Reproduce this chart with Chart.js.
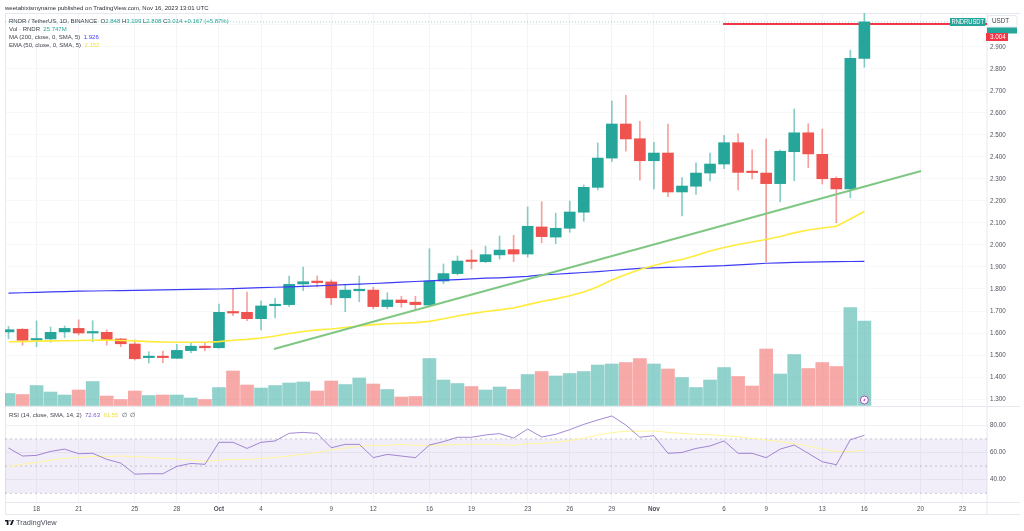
<!DOCTYPE html>
<html>
<head>
<meta charset="utf-8">
<title>RNDR / TetherUS daily</title>
<script src="https://cdn.jsdelivr.net/npm/chart.js@4/dist/chart.umd.min.js"></script>
<style>
  html, body { margin: 0; padding: 0; background: #fff; }
  #wrap { position: relative; width: 1024px; height: 531px; overflow: hidden; }
  canvas { position: absolute; left: 0; top: 0; }
  .t { position: absolute; white-space: pre; font: 6px/9px "Liberation Sans", Arial, sans-serif; color: #3c3f4a; }
  .up { color: #26a69a; }
  .ma { color: #3b3bff; }
  .em { color: #f2e23a; }
  .rs { color: #7e57c2; }
  .rm { color: #f2e23a; }
</style>
</head>
<body>
<div id="wrap">
  <canvas id="chart" width="1024" height="531"></canvas>
  <div class="t" id="headline" style="left:5px;top:4px;color:#2a2e39"></div>
  <div class="t" id="legendPrice" style="left:9px;top:17px"></div>
  <div class="t" id="legendVol" style="left:9px;top:25px"></div>
  <div class="t" id="legendMa" style="left:9px;top:33px"></div>
  <div class="t" id="legendEma" style="left:9px;top:41px"></div>
  <div class="t" id="legendRsi" style="left:9px;top:411px"></div>
  <svg style="position:absolute;left:5px;top:520px" width="9" height="5" viewBox="0 6 36 20" preserveAspectRatio="none">
    <path fill="#131722" d="M14 6H0v6h7v14h7V6Zm14 20h-8l8-20h8l-8 20Zm-8-14a3 3 0 1 0 0-6 3 3 0 0 0 0 6Z"/>
  </svg>
  <div class="t" style="left:16px;top:518px;font-size:7.4px;color:#4a4e5a">TradingView</div>
</div>
<script>
// Daily RNDR/USDT candles, 16 Sep to 16 Nov 2023
const days = [
  'Sep 16','Sep 17','Sep 18','Sep 19','Sep 20','Sep 21','Sep 22','Sep 23','Sep 24','Sep 25','Sep 26','Sep 27','Sep 28','Sep 29','Sep 30',
  'Oct 1','Oct 2','Oct 3','Oct 4','Oct 5','Oct 6','Oct 7','Oct 8','Oct 9','Oct 10','Oct 11','Oct 12','Oct 13','Oct 14','Oct 15','Oct 16',
  'Oct 17','Oct 18','Oct 19','Oct 20','Oct 21','Oct 22','Oct 23','Oct 24','Oct 25','Oct 26','Oct 27','Oct 28','Oct 29','Oct 30','Oct 31',
  'Nov 1','Nov 2','Nov 3','Nov 4','Nov 5','Nov 6','Nov 7','Nov 8','Nov 9','Nov 10','Nov 11','Nov 12','Nov 13','Nov 14','Nov 15','Nov 16'
];
const opens = [
  1.605,1.617,1.568,1.573,1.605,1.621,1.600,1.603,1.573,1.550,1.488,1.491,1.485,1.520,1.538,
  1.533,1.694,1.694,1.665,1.724,1.729,1.823,1.836,1.832,1.760,1.792,1.795,1.720,1.750,1.740,1.727,
  1.836,1.870,1.930,1.924,1.955,1.979,1.959,2.082,2.036,2.076,2.149,2.262,2.395,2.550,2.483,
  2.383,2.418,2.241,2.267,2.327,2.368,2.465,2.332,2.327,2.279,2.424,2.510,2.412,2.303,2.255,2.848
];
const highs = [
  1.630,1.620,1.655,1.627,1.632,1.660,1.656,1.614,1.576,1.568,1.515,1.518,1.549,1.553,1.553,
  1.732,1.800,1.786,1.745,1.758,1.859,1.900,1.859,1.841,1.821,1.859,1.808,1.783,1.767,1.767,1.983,
  1.914,1.950,1.977,1.995,2.041,2.044,2.173,2.197,2.145,2.200,2.273,2.464,2.655,2.680,2.562,
  2.467,2.550,2.306,2.374,2.418,2.499,2.505,2.432,2.483,2.432,2.618,2.551,2.527,2.310,2.885,3.199
];
const lows = [
  1.574,1.544,1.538,1.558,1.579,1.591,1.560,1.545,1.538,1.477,1.464,1.465,1.483,1.510,1.518,
  1.531,1.679,1.656,1.614,1.668,1.720,1.792,1.810,1.729,1.697,1.742,1.710,1.710,1.717,1.705,1.725,
  1.824,1.864,1.891,1.920,1.936,1.924,1.945,2.010,2.006,2.058,2.108,2.250,2.379,2.426,2.295,
  2.255,2.220,2.132,2.230,2.291,2.347,2.250,2.300,1.924,2.197,2.292,2.351,2.277,2.101,2.215,2.808
];
const closes = [
  1.615,1.567,1.573,1.603,1.621,1.600,1.605,1.570,1.551,1.483,1.491,1.488,1.521,1.540,1.533,
  1.694,1.691,1.665,1.723,1.729,1.821,1.833,1.829,1.760,1.795,1.795,1.720,1.750,1.738,1.729,1.836,
  1.870,1.927,1.925,1.956,1.977,1.959,2.085,2.038,2.076,2.150,2.262,2.395,2.550,2.482,2.383,
  2.418,2.241,2.268,2.327,2.368,2.465,2.330,2.329,2.279,2.426,2.510,2.414,2.301,2.255,2.848,3.014
];
// Volume in millions of RNDR
const volumes = [
  3.66,3.35,6.09,4.11,3.20,4.72,7.31,2.89,1.83,4.42,3.05,3.20,3.20,2.29,1.83,
  5.48,10.51,6.25,5.33,6.09,6.86,7.16,4.42,7.47,6.40,8.38,6.55,4.88,2.59,2.74,14.32,
  7.77,6.70,5.79,4.72,5.64,4.88,9.45,10.36,8.99,9.75,10.36,12.34,12.65,13.10,14.32,
  12.65,11.12,8.53,5.48,7.77,11.58,8.84,5.94,17.22,9.60,15.54,11.27,13.10,11.88,29.86,25.747
];
const ma200 = [
  1.781,1.783,1.785,1.787,1.788,1.790,1.791,1.792,1.793,1.794,1.795,1.796,1.797,1.798,1.799,
  1.800,1.802,1.804,1.806,1.808,1.810,1.812,1.814,1.817,1.820,1.822,1.825,1.828,1.831,1.834,1.837,
  1.840,1.843,1.846,1.849,1.851,1.854,1.857,1.864,1.867,1.871,1.875,1.879,1.884,1.889,1.894,
  1.896,1.898,1.900,1.902,1.904,1.906,1.910,1.913,1.917,1.919,1.921,1.922,1.923,1.924,1.925,1.926
];
const ema50 = [
  1.560,1.561,1.563,1.564,1.565,1.566,1.567,1.568,1.566,1.564,1.561,1.559,1.558,1.558,1.558,
  1.561,1.567,1.571,1.577,1.586,1.598,1.607,1.614,1.618,1.625,1.632,1.638,1.642,1.644,1.647,1.653,
  1.665,1.677,1.688,1.698,1.705,1.714,1.729,1.743,1.755,1.769,1.786,1.810,1.841,1.866,1.889,
  1.907,1.923,1.934,1.952,1.973,1.989,2.002,2.014,2.025,2.039,2.055,2.068,2.077,2.085,2.118,2.152
];
const rsi = [
  63.3,57.4,57.9,60.8,62.5,59.1,59.4,55.0,52.2,44.1,44.4,44.4,49.8,52.0,51.3,
  67.5,67.5,63.0,67.5,68.5,74.1,74.8,74.1,63.5,66.0,66.0,56.2,58.6,57.4,56.2,65.5,
  68.0,71.2,71.2,72.9,73.9,70.6,77.3,71.4,73.4,76.8,80.7,83.9,86.9,80.2,71.2,
  72.4,59.4,60.0,63.0,64.8,68.5,59.4,59.4,56.2,62.5,65.5,59.4,53.2,51.0,69.4,72.63
];
const rsiMa = [
  49.5,51.3,52.7,54.4,55.7,56.4,57.1,57.1,57.4,56.9,56.4,55.7,55.2,54.4,53.5,
  54.4,54.9,54.9,55.7,56.2,57.4,58.6,60.0,61.8,63.3,64.5,65.3,65.3,66.0,65.3,65.3,
  65.5,65.8,66.0,66.0,65.8,65.3,66.5,66.7,67.5,68.9,70.4,72.9,74.6,75.6,75.6,
  75.8,74.8,74.1,73.4,73.1,72.4,71.6,70.4,69.2,68.0,66.5,64.8,62.5,60.8,60.6,61.55
];
// Hand-drawn trend line: two anchors in (day index, price)
const trendDays = [18.92, 65.04];
const trendPrices = [1.527, 2.336];
// Horizontal target drawn from Nov 6 to the axis
const targetPrice = 3.004;
const targetStartDay = 50.93;
// Axis ticks
const priceTicks = [1.3,1.4,1.5,1.6,1.7,1.8,1.9,2.0,2.1,2.2,2.3,2.4,2.5,2.6,2.7,2.8,2.9,3.0];
const rsiTicks = [40, 60, 80];
const rsiLevels = [70, 50, 30];
const tickDays = [2,5,9,12,15,18,23,26,30,33,37,40,43,46,51,54,58,61,65,68];
const tickLabels = ['18','21','25','28','Oct','4','9','12','16','19','23','26','29','Nov','6','9','13','16','20','23'];

const UP = '#26a69a', DOWN = '#ef5350';
const xMin = -0.25, xMax = 69.74;
const isUp = days.map((_, i) => closes[i] >= opens[i]);
const pts = vals => vals.map((v, i) => ({ x: i, y: v }));
const flat = (v, from = xMin) => [{ x: from, y: v }, { x: xMax, y: v }];
const FONT = '"Liberation Sans", Arial, sans-serif';

// Price tags, pane frame and the alert marker on top of the datasets
const overlay = {
  id: 'overlay',
  beforeDatasetsDraw(chart) {
    const c = chart.ctx;
    c.save();
    c.strokeStyle = '#e6e8ef';
    c.lineWidth = 1;
    const line = (a, b, d, e) => { c.beginPath(); c.moveTo(a, b); c.lineTo(d, e); c.stroke(); };
    line(5, 13.5, 1020, 13.5);
    line(5, 406.5, 1020, 406.5);
    line(5, 502.5, 1020, 502.5);
    line(5, 514.5, 1020, 514.5);
    line(5.5, 13, 5.5, 514);
    line(987, 13, 987, 514);
    c.restore();
  },
  afterDatasetsDraw(chart) {
    const c = chart.ctx, sx = chart.scales.x, sv = chart.scales.yVol;
    c.save();
    c.textBaseline = 'middle';
    c.textAlign = 'left';
    c.font = '6.3px ' + FONT;
    // symbol tag
    c.fillStyle = UP;
    c.fillRect(950, 18, 35.5, 8);
    c.fillStyle = '#fff';
    c.fillText('RNDRUSDT', 951.5, 22.3, 32.5);
    // currency button
    c.fillStyle = '#fff';
    c.strokeStyle = '#e6e8ef';
    c.beginPath();
    c.roundRect(987.5, 15.5, 29.5, 11.5, 2);
    c.fill();
    c.stroke();
    c.fillStyle = '#3c3f4a';
    c.fillText('USDT', 992, 21.5);
    // last price tag, mostly covered by the target tag
    c.fillStyle = UP;
    c.fillRect(987, 27.5, 30, 6);
    // target tag
    c.fillStyle = '#f23645';
    c.fillRect(986, 33, 22, 8);
    c.fillStyle = '#fff';
    c.fillText(targetPrice.toFixed(3), 990, 37.3);
    // alert marker at the last bar
    const mx = sx.getPixelForValue(61), my = sv.getPixelForValue(0) - 5.5;
    c.beginPath();
    c.arc(mx, my, 4, 0, Math.PI * 2);
    c.fillStyle = '#fff';
    c.fill();
    c.strokeStyle = '#ab47bc';
    c.lineWidth = 1;
    c.stroke();
    c.fillStyle = '#ab47bc';
    c.beginPath();
    c.moveTo(mx + 1.2, my - 2.5);
    c.lineTo(mx - 1.4, my + 0.5);
    c.lineTo(mx - 0.1, my + 0.5);
    c.lineTo(mx - 1.0, my + 2.5);
    c.lineTo(mx + 1.5, my - 0.6);
    c.lineTo(mx + 0.2, my - 0.6);
    c.closePath();
    c.fill();
    c.restore();
  }
};

const priceLine = (label, data, color, width, order, extra = {}) => ({
  type: 'line', label, data, borderColor: color, borderWidth: width, order,
  yAxisID: 'y', pointRadius: 0, tension: 0, fill: false, ...extra
});
const rsiLine = (label, data, color, order, extra = {}) => ({
  type: 'line', label, data, borderColor: color, borderWidth: 1, order,
  yAxisID: 'yRsi', pointRadius: 0, tension: 0, fill: false, ...extra
});

new Chart(document.getElementById('chart'), {
  type: 'bar',
  plugins: [overlay],
  data: {
    datasets: [
      { label: 'Volume', yAxisID: 'yVol', order: 20, grouped: false, barThickness: 13,
        data: volumes.map((v, i) => ({ x: i, y: v })),
        backgroundColor: isUp.map(u => u ? 'rgba(38,166,154,0.5)' : 'rgba(239,83,80,0.5)') },
      priceLine('Last', flat(closes[closes.length - 1]), 'rgba(38,166,154,0.45)', 1, 19, { borderDash: [1, 2] }),
      priceLine('Target', flat(targetPrice, targetStartDay), '#f23645', 2, 12),
      { label: 'Wicks', yAxisID: 'y', order: 11, grouped: false, barThickness: 1,
        data: days.map((_, i) => ({ x: i, y: [lows[i], highs[i]] })),
        backgroundColor: isUp.map(u => u ? 'rgba(38,166,154,0.55)' : 'rgba(239,83,80,0.55)') },
      { label: 'Bodies', yAxisID: 'y', order: 10, grouped: false, barThickness: 11, minBarLength: 1.5,
        data: days.map((_, i) => ({ x: i, y: [opens[i], closes[i]] })),
        backgroundColor: isUp.map(u => u ? UP : DOWN) },
      priceLine('MA 200', pts(ma200), '#3b3bf5', 1.2, 5),
      priceLine('EMA 50', pts(ema50), '#ffeb3b', 1.6, 4),
      priceLine('Trend', trendDays.map((d, i) => ({ x: d, y: trendPrices[i] })), '#81c784', 2, 3),
      rsiLine('Band', flat(rsiLevels[0]), 'rgba(120,123,134,0.4)', 9, {
        borderDash: [2, 3], fill: { value: rsiLevels[2] }, backgroundColor: 'rgba(126,87,194,0.1)' }),
      rsiLine('Mid', flat(rsiLevels[1]), 'rgba(120,123,134,0.4)', 8, { borderDash: [2, 3] }),
      rsiLine('Low', flat(rsiLevels[2]), 'rgba(120,123,134,0.4)', 8, { borderDash: [2, 3] }),
      rsiLine('RSI MA', pts(rsiMa), '#fff59d', 7),
      rsiLine('RSI', pts(rsi), '#7e57c2', 6, { borderColor: 'rgba(126,87,194,0.7)' })
    ]
  },
  options: {
    responsive: false,
    animation: false,
    events: [],
    layout: { padding: { left: 5, top: 13, right: 0, bottom: 0 } },
    plugins: { legend: { display: false }, tooltip: { enabled: false } },
    scales: {
      x: {
        type: 'linear', min: xMin, max: xMax, offset: false,
        afterBuildTicks: s => { s.ticks = tickDays.map(v => ({ value: v })); },
        afterFit: s => { s.height = 29; },
        border: { display: false },
        grid: { color: '#f3f4f7', drawTicks: false, offset: false },
        ticks: {
          autoSkip: false, maxRotation: 0, padding: 3, color: '#50535e',
          callback: v => tickLabels[tickDays.indexOf(v)],
          font: ctx => {
            const name = ctx.tick ? tickLabels[tickDays.indexOf(ctx.tick.value)] : '';
            return { family: FONT, size: 6.3, weight: (name === 'Oct' || name === 'Nov') ? 'bold' : 'normal' };
          }
        }
      },
      y: {
        position: 'right', stack: 'panes', stackWeight: 393, weight: 1,
        min: 1.2682, max: 3.0545,
        afterBuildTicks: s => { s.ticks = priceTicks.map(v => ({ value: v })); },
        afterFit: s => { s.width = 37; },
        border: { display: false },
        grid: { color: '#f7f8fa', drawTicks: false },
        ticks: {
          padding: 3, crossAlign: 'near', color: '#50535e', font: { family: FONT, size: 6.3 },
          callback: v => (v < 2.95 ? v.toFixed(3) : '')
        }
      },
      yRsi: {
        position: 'right', stack: 'panes', stackWeight: 96, weight: 2,
        min: 23.6, max: 94.2,
        afterBuildTicks: s => { s.ticks = rsiTicks.map(v => ({ value: v })); },
        afterFit: s => { s.width = 37; },
        border: { display: false },
        grid: { color: '#f0f1f5', drawTicks: false },
        ticks: {
          padding: 3, crossAlign: 'near', color: '#50535e', font: { family: FONT, size: 6.3 },
          callback: v => v.toFixed(2)
        }
      },
      yVol: { display: false, position: 'left', min: -29.4, max: 119.6 }
    }
  }
});

// Text rows above the panes
const last = days.length - 1;
const num = v => v.toFixed(3);
const changeText = '+0.167 (+5.87%)';
document.getElementById('headline').textContent =
  'weetabixismyname published on TradingView.com, Nov 16, 2023 13:01 UTC';
document.getElementById('legendPrice').innerHTML =
  'RNDR / TetherUS, 1D, BINANCE  O<span class="up">' + num(opens[last]) +
  '</span> H<span class="up">' + num(highs[last]) +
  '</span> L<span class="up">' + num(lows[last]) +
  '</span> C<span class="up">' + num(closes[last]) +
  ' ' + changeText + '</span>';
document.getElementById('legendVol').innerHTML =
  'Vol · RNDR  <span class="up">' + num(volumes[last]) + 'M</span>';
document.getElementById('legendMa').innerHTML =
  'MA (200, close, 0, SMA, 5)  <span class="ma">' + num(ma200[last]) + '</span>';
document.getElementById('legendEma').innerHTML =
  'EMA (50, close, 0, SMA, 5)  <span class="em">' + num(ema50[last]) + '</span>';
document.getElementById('legendRsi').innerHTML =
  'RSI (14, close, SMA, 14, 2)  <span class="rs">' + rsi[last].toFixed(2) +
  '</span>  <span class="rm">' + rsiMa[last].toFixed(2) + '</span>  ∅  ∅';
</script>
</body>
</html>
